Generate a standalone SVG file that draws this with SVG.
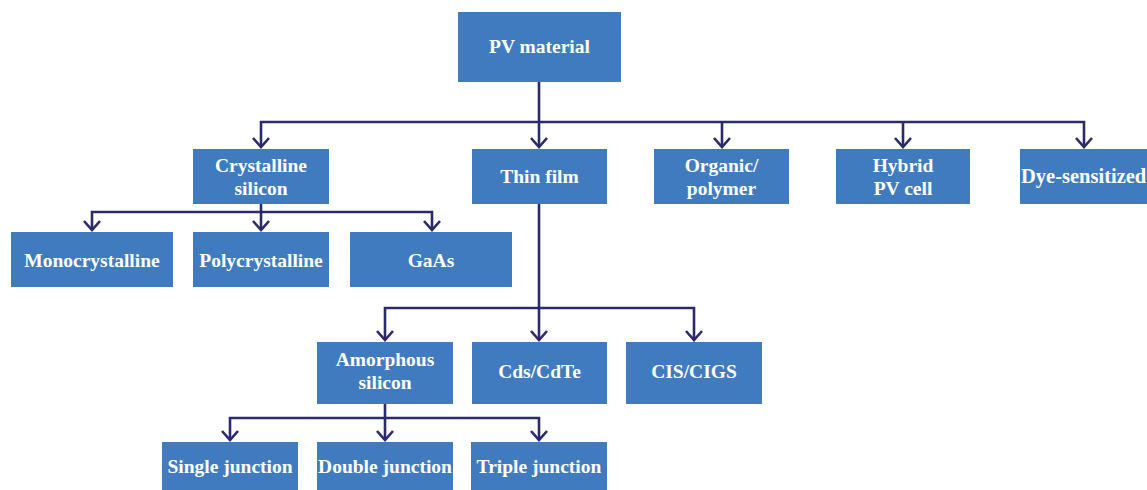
<svg xmlns="http://www.w3.org/2000/svg" width="1147" height="490" viewBox="0 0 1147 490">
<style>
.box{fill:#407bbf}
.t{font-family:"Liberation Serif","Times New Roman",serif;font-weight:bold;font-size:19.5px;fill:#ffffff;text-anchor:middle}
.c{fill:none;stroke:#2a2a6c;stroke-width:2.6}
</style>
<defs>
<marker id="arr" markerUnits="userSpaceOnUse" viewBox="-12 -12 24 24" refX="0" refY="0" markerWidth="24" markerHeight="24" orient="auto">
<path d="M-9,-8 L0,0 L-9,8" fill="none" stroke="#2a2a6c" stroke-width="2.6"/>
</marker>
</defs>
<rect width="1147" height="490" fill="#ffffff"/>
<g id="connectors">
<path class="c" d="M539,82 V147" marker-end="url(#arr)"/>
<path class="c" d="M539,122 H261 V147" marker-end="url(#arr)"/>
<path class="c" d="M539,122 H1084 V147" marker-end="url(#arr)"/>
<path class="c" d="M722,122 V147" marker-end="url(#arr)"/>
<path class="c" d="M903,122 V147" marker-end="url(#arr)"/>
<path class="c" d="M261,204 V230" marker-end="url(#arr)"/>
<path class="c" d="M261,212 H92 V230" marker-end="url(#arr)"/>
<path class="c" d="M261,212 H432 V230" marker-end="url(#arr)"/>
<path class="c" d="M539,204 V340" marker-end="url(#arr)"/>
<path class="c" d="M539,308 H385 V340" marker-end="url(#arr)"/>
<path class="c" d="M539,308 H694 V340" marker-end="url(#arr)"/>
<path class="c" d="M385,404 V440" marker-end="url(#arr)"/>
<path class="c" d="M385,418 H230 V440" marker-end="url(#arr)"/>
<path class="c" d="M385,418 H539 V440" marker-end="url(#arr)"/>
</g>
<g id="pv-material"><rect class="box" x="458" y="12" width="163" height="70"/><text class="t" x="539.5" y="53">PV material</text></g>
<g id="crystalline-silicon"><rect class="box" x="193" y="149" width="136" height="55"/><text class="t" x="261" y="172">Crystalline</text><text class="t" x="261" y="195">silicon</text></g>
<g id="thin-film"><rect class="box" x="472" y="149" width="135" height="55"/><text class="t" x="539.5" y="183">Thin film</text></g>
<g id="organic-polymer"><rect class="box" x="654" y="149" width="135" height="55"/><text class="t" x="721.5" y="172">Organic/</text><text class="t" x="721.5" y="195">polymer</text></g>
<g id="hybrid-pv-cell"><rect class="box" x="836" y="149" width="134" height="55"/><text class="t" x="903" y="172">Hybrid</text><text class="t" x="903" y="195">PV cell</text></g>
<g id="dye-sensitized"><rect class="box" x="1020" y="149" width="135" height="55"/><text class="t" x="1021" y="183" style="text-anchor:start;font-size:20.5px">Dye-sensitized</text></g>
<g id="monocrystalline"><rect class="box" x="11" y="232" width="162" height="55"/><text class="t" x="92" y="267">Monocrystalline</text></g>
<g id="polycrystalline"><rect class="box" x="193" y="232" width="136" height="55"/><text class="t" x="261" y="267">Polycrystalline</text></g>
<g id="gaas"><rect class="box" x="350" y="232" width="162" height="55"/><text class="t" x="431" y="267">GaAs</text></g>
<g id="amorphous-silicon"><rect class="box" x="317" y="342" width="136" height="62"/><text class="t" x="385" y="366">Amorphous</text><text class="t" x="385" y="389">silicon</text></g>
<g id="cds-cdte"><rect class="box" x="472" y="342" width="135" height="62"/><text class="t" x="539.5" y="378">Cds/CdTe</text></g>
<g id="cis-cigs"><rect class="box" x="626" y="342" width="136" height="62"/><text class="t" x="694" y="378">CIS/CIGS</text></g>
<g id="single-junction"><rect class="box" x="162" y="442" width="136" height="60"/><text class="t" x="230" y="473">Single junction</text></g>
<g id="double-junction"><rect class="box" x="317" y="442" width="136" height="60"/><text class="t" x="385" y="473">Double junction</text></g>
<g id="triple-junction"><rect class="box" x="471" y="442" width="136" height="60"/><text class="t" x="539" y="473">Triple junction</text></g>
</svg>
